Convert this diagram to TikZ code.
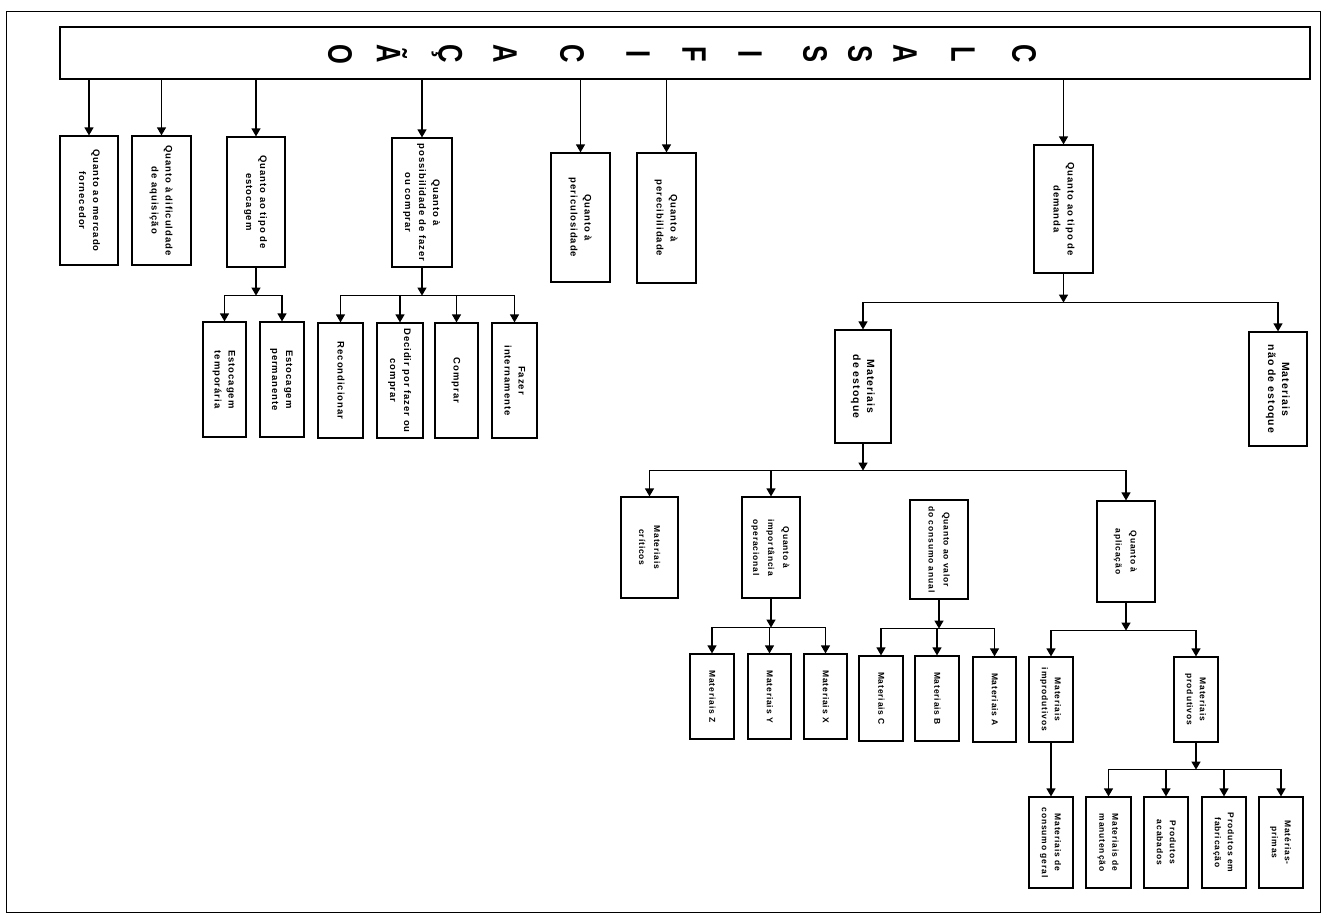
\documentclass[tikz,border=0pt]{standalone}
\usepackage{fontspec}
\usepackage{graphicx}
\usetikzlibrary{arrows.meta}
\newfontfamily\bxf[LetterSpace=10]{Liberation Sans}
\newfontfamily\smf[LetterSpace=10]{Liberation Sans}
\newfontfamily\mdf[LetterSpace=10]{Liberation Sans}
\newfontfamily\ttlf{Liberation Sans}
\newcommand{\vtext}[1]{\rotatebox{-90}{\begin{tabular}{@{}c@{}}#1\end{tabular}}}
\newcommand{\bxnode}[7]{\node[#1, minimum width={(#4-#3)*1pt}, minimum height={(#6-#5)*1pt}] (#2) at ({(#3+#4)/2},{(#5+#6)/2}) {\vtext{#7}};}
\newcommand{\ttlletter}[1]{\rotatebox{-90}{\scalebox{0.75}[1]{#1}}}
\begin{document}
\begin{tikzpicture}[x=1pt,y=-1pt,
  bigbox/.style={draw, line width=1.2pt, inner sep=0pt, font=\bxf\bfseries\fontsize{9.5}{14}\selectfont},
  smallbox/.style={bigbox, font=\smf\bfseries\fontsize{8.5}{13}\selectfont},
  smallwide/.style={bigbox, font=\smf\bfseries\fontsize{8.5}{15}\selectfont},
  medbox/.style={bigbox, font=\mdf\bfseries\fontsize{10.5}{14}\selectfont},
  titlebox/.style={draw, line width=1.2pt, inner sep=0pt},
  ttl/.style={font=\ttlf\bfseries\fontsize{34}{34}\selectfont, inner sep=0pt},
  arr/.style={line width=1.2pt, -{Triangle[length=8pt,width=9pt]}},
  frame/.style={line width=1pt}]
\useasboundingbox (0,0) rectangle (1334,922);
\fill[white] (0,0) rectangle (1334,922);
\draw[frame] (6,11) rectangle (1320,912);

% title
\node[titlebox, minimum width=1250pt, minimum height=52pt] (title) at (685,53) {};
\foreach \l/\x [count=\i] in {C/1024, L/963, A/905, S/860, S/815, I/750, F/694, I/638, C/572, A/505, Ç/447, Ã/392, O/340}
  \node[ttl] (t\i) at (\x,54) {\ttlletter{\l}};

% level 1
\bxnode{bigbox}{m1}{60}{118}{136}{265}{Quanto ao mercado\\fornecedor}
\bxnode{bigbox}{m2}{132}{191}{136}{265}{Quanto à dificuldade\\de aquisição}
\bxnode{bigbox}{m3}{227}{285}{137}{267}{Quanto ao tipo de\\estocagem}
\bxnode{bigbox}{m4}{392}{452}{138}{267}{Quanto à\\possibilidade de fazer\\ou comprar}
\bxnode{bigbox}{m5}{551}{610}{153}{282}{Quanto à\\periculosidade}
\bxnode{bigbox}{m6}{637}{696}{153}{283}{Quanto à\\perecibilidade}
\bxnode{bigbox}{m7}{1034}{1093}{145}{273}{Quanto ao tipo de\\demanda}

% estocagem
\bxnode{bigbox}{e1}{203}{246}{322}{437}{Estocagem\\temporária}
\bxnode{bigbox}{e2}{260}{304}{322}{437}{Estocagem\\permanente}
% fazer ou comprar
\bxnode{bigbox}{f1}{318}{363}{323}{438}{Recondicionar}
\bxnode{bigbox}{f2}{377}{423}{323}{438}{Decidir por fazer ou\\comprar}
\bxnode{bigbox}{f3}{435}{478}{323}{438}{Comprar}
\bxnode{bigbox}{f4}{492}{537}{323}{438}{Fazer\\internamente}

% demanda
\bxnode{medbox}{d1}{1249}{1307}{332}{446}{Materiais\\não de estoque}
\bxnode{medbox}{d2}{835}{891}{330}{443}{Materiais\\de estoque}

% de estoque
\bxnode{smallwide}{s1}{621}{678}{497}{598}{Materiais\\críticos}
\bxnode{smallwide}{s2}{742}{800}{497}{598}{Quanto à\\importância\\operacional}
\bxnode{smallwide}{s3}{910}{968}{500}{599}{Quanto ao valor\\do consumo anual}
\bxnode{smallwide}{s4}{1097}{1155}{501}{602}{Quanto à\\aplicação}

% importancia
\bxnode{smallbox}{iz}{690}{734}{654}{739}{Materiais Z}
\bxnode{smallbox}{iy}{748}{791}{654}{739}{Materiais Y}
\bxnode{smallbox}{ix}{804}{847}{654}{739}{Materiais X}
% valor
\bxnode{smallbox}{vc}{859}{903}{656}{741}{Materiais C}
\bxnode{smallbox}{vb}{915}{959}{656}{741}{Materiais B}
\bxnode{smallbox}{va}{973}{1016}{657}{742}{Materiais A}
% aplicacao
\bxnode{smallbox}{a1}{1029}{1073}{657}{742}{Materiais\\improdutivos}
\bxnode{smallbox}{a2}{1174}{1218}{657}{742}{Materiais\\produtivos}
\bxnode{smallbox}{g1}{1029}{1073}{797}{888}{Materiais de\\consumo geral}
\bxnode{smallbox}{p1}{1086}{1131}{797}{888}{Materiais de\\manutenção}
\bxnode{smallbox}{p2}{1144}{1188}{797}{888}{Produtos\\acabados}
\bxnode{smallbox}{p3}{1202}{1246}{797}{888}{Produtos em\\fabricação}
\bxnode{smallbox}{p4}{1259}{1303}{797}{888}{Matérias-\\primas}

% top-level arrows
\foreach \n in {m1,m2,m3,m4,m5,m6,m7}
  \draw[arr] (title.south -| \n.north) -- (\n.north);

% junctions
\path (m3.south) ++(0,28) coordinate (j3);
\path (m4.south) ++(0,28) coordinate (j4);
\path (m7.south) ++(0,29) coordinate (j7);
\path (d2.south) ++(0,27) coordinate (jd);
\path (s2.south) ++(0,29) coordinate (js2);
\path (s3.south) ++(0,29) coordinate (js3);
\path (s4.south) ++(0,28) coordinate (js4);
\path (a2.south) ++(0,27) coordinate (ja2);

\draw[arr] (m3.south) -- (j3);
\foreach \n in {e1,e2} \draw[arr] (j3) -| (\n.north);
\draw[arr] (m4.south) -- (j4);
\foreach \n in {f1,f2,f3,f4} \draw[arr] (j4) -| (\n.north);
\draw[arr] (m7.south) -- (j7);
\foreach \n in {d1,d2} \draw[arr] (j7) -| (\n.north);
\draw[arr] (d2.south) -- (jd);
\foreach \n in {s1,s2,s4} \draw[arr] (jd) -| (\n.north);
\draw[arr] (s2.south) -- (js2);
\foreach \n in {iz,iy,ix} \draw[arr] (js2) -| (\n.north);
\draw[arr] (s3.south) -- (js3);
\foreach \n in {vc,vb,va} \draw[arr] (js3) -| (\n.north);
\draw[arr] (s4.south) -- (js4);
\foreach \n in {a1,a2} \draw[arr] (js4) -| (\n.north);
\draw[arr] (a1.south) -- (g1.north);
\draw[arr] (a2.south) -- (ja2);
\foreach \n in {p1,p2,p3,p4} \draw[arr] (ja2) -| (\n.north);
\end{tikzpicture}
\end{document}
